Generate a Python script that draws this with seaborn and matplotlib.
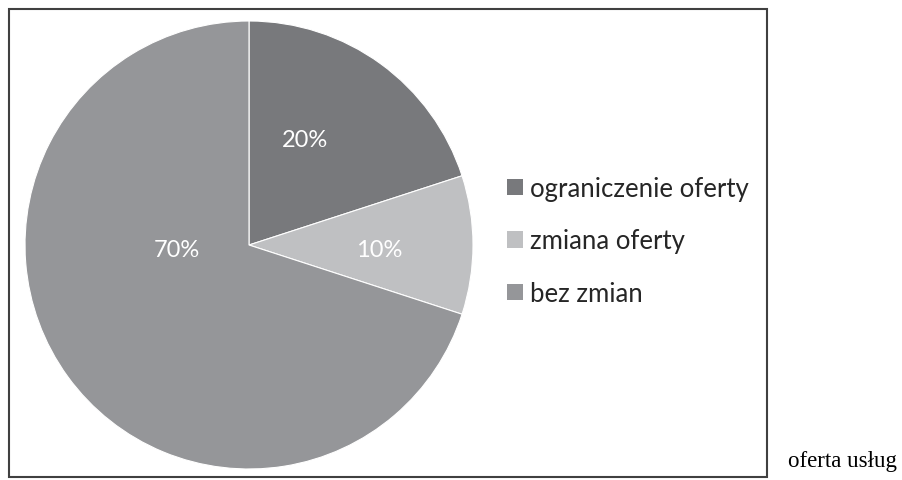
import matplotlib
matplotlib.use("Agg")
import matplotlib.pyplot as plt
import matplotlib.patches as mpatches
import seaborn as sns

# data
categories = ["ograniczenie oferty", "zmiana oferty", "bez zmian"]
shares = [20, 10, 70]
colors = ["#78797c", "#bfc0c2", "#959699"]
caption = "oferta usług"

sns.set_theme(style="white")
plt.rcParams["font.family"] = ["Lato", "DejaVu Sans"]

W, H = 903, 481
fig = plt.figure(figsize=(W / 100, H / 100), dpi=100)

# pie axes: centre (249, 246) px, radius 224 px
cx, cy, r = 249, 246, 224
ax = fig.add_axes([(cx - r) / W, (H - cy - r) / H, 2 * r / W, 2 * r / H])
wedges, texts, autotexts = ax.pie(
    shares, colors=colors, startangle=90, counterclock=False,
    autopct="%d%%", pctdistance=0.55,
    wedgeprops=dict(edgecolor="white", linewidth=0.8),
    textprops=dict(color="white", fontsize=17),
)
ax.set_xlim(-1, 1)
ax.set_ylim(-1, 1)
ax.set_aspect("auto")
ax.axis("off")

# Excel-style label placement
label_pos = [(0.25, 0.47), (0.58, -0.02), (-0.32, -0.02)]
for t, p in zip(autotexts, label_pos):
    t.set_position(p)

# legend
handles = [mpatches.Patch(facecolor=c, edgecolor="none") for c in colors]
fig.legend(handles, categories, loc="center left",
           bbox_to_anchor=(507 / W, 1 - 242 / H), frameon=False,
           fontsize=18.5, handlelength=0.62, handleheight=0.62,
           handletextpad=0.27, labelspacing=1.07, borderaxespad=0,
           borderpad=0, labelcolor="#262626")

# outer frame
frame = mpatches.Rectangle((8.5 / W, 1 - 478 / H), (767 - 8.5) / W, (478 - 10) / H,
                           transform=fig.transFigure, fill=False,
                           edgecolor="#404040", linewidth=1.5)
fig.add_artist(frame)

fig.text(788 / W, 1 - 467 / H, caption, fontsize=16.5,
         family=["Liberation Serif", "DejaVu Serif"], color="black",
         ha="left", va="baseline")

fig.savefig("out.png", dpi=100)
